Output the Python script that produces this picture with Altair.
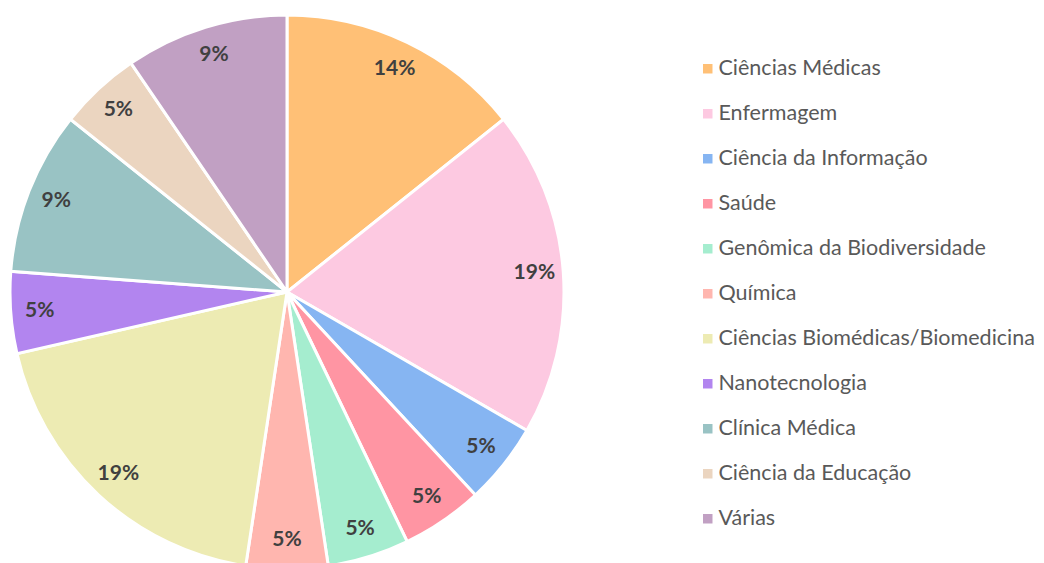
import altair as alt
import pandas as pd

categories = ["Ciências Médicas", "Enfermagem", "Ciência da Informação", "Saúde",
              "Genômica da Biodiversidade", "Química", "Ciências Biomédicas/Biomedicina",
              "Nanotecnologia", "Clínica Médica", "Ciência da Educação", "Várias"]
counts = [3, 4, 1, 1, 1, 1, 4, 1, 2, 1, 2]
pct_labels = ["14%", "19%", "5%", "5%", "5%", "5%", "19%", "5%", "9%", "5%", "9%"]
colors = ["#FFC076", "#FDC9E1", "#86B5F2", "#FF95A3", "#A5EDCF", "#FFB6AF",
          "#EDEBB3", "#B285EF", "#99C3C4", "#EBD5C0", "#C1A0C3"]

df = pd.DataFrame({
    "cat": categories,
    "n": counts,
    "idx": list(range(len(categories))),
    "pct": pct_labels,
})

base = alt.Chart(df).encode(
    theta=alt.Theta("n:Q", stack=True),
    order=alt.Order("idx:Q", sort="ascending"),
)

arcs = base.mark_arc(outerRadius=277, stroke="white", strokeWidth=3).encode(
    x=alt.value(287),
    y=alt.value(292),
    color=alt.Color(
        "cat:N",
        sort=categories,
        scale=alt.Scale(domain=categories, range=colors),
        legend=alt.Legend(
            title=None,
            orient="none",
            legendX=697,
            legendY=58,
            symbolType="square",
            symbolSize=90,
            symbolStrokeWidth=0,
            labelFont="Lato",
            labelFontSize=21.5,
            labelColor="#595959",
            labelLimit=400,
            rowPadding=22,
            labelOffset=0,
        ),
    ),
)

labels = base.mark_text(radius=248, font="Lato", fontSize=21, fontWeight="bold",
                        color="#404040").encode(
    x=alt.value(287),
    y=alt.value(292),
    text="pct:N",
)

chart = (arcs + labels).properties(
    width=1044, height=563,
    autosize=alt.AutoSizeParams(type="none"),
    padding=0,
).configure_view(stroke=None)

chart.save("out.html", embed_options={"renderer": "svg", "actions": False})
